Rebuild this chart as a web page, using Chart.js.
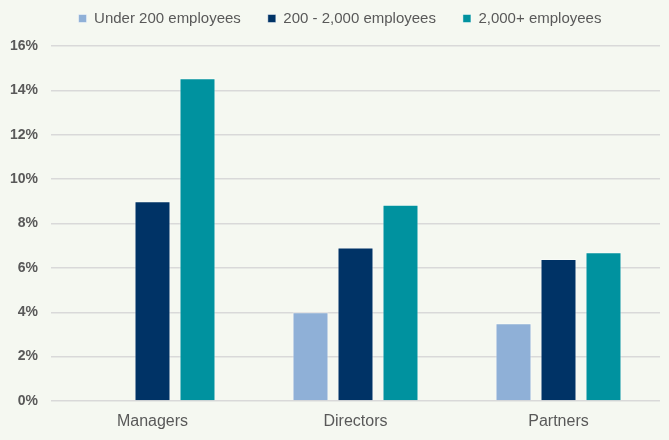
<!DOCTYPE html>
<html>
<head>
<meta charset="utf-8">
<script src="https://cdn.jsdelivr.net/npm/chart.js@4"></script>
<style>
  html, body { margin: 0; padding: 0; background: #f5f8f1; overflow: hidden; }
  #wrap { width: 669px; height: 456px; margin-top: -16px; }
</style>
</head>
<body>
<div id="wrap"><canvas id="c"></canvas></div>
<script>
// chart data
const categories = ["Managers", "Directors", "Partners"];
const under200 = [null, 4.0, 3.5];
const mid200to2000 = [9.0, 6.92, 6.4];
const over2000 = [14.55, 8.85, 6.7];
const seriesNames = ["Under 200 employees", "200 - 2,000 employees", "2,000+ employees"];
const yTicks = [0, 2, 4, 6, 8, 10, 12, 14, 16];

const gray = "#595959";
const fontFamily = "'Liberation Sans', Arial, sans-serif";

// make room under the legend and nudge it right a little
const legendTweak = {
  id: "legendTweak",
  beforeInit(chart) {
    const fit = chart.legend.fit;
    chart.legend.fit = function () {
      fit.call(this);
      this.height += 10;
    };
  },
  afterLayout(chart) {
    chart.legend.left += 10;
    chart.legend.right += 10;
  },
};

new Chart(document.getElementById("c"), {
  type: "bar",
  data: {
    labels: categories,
    datasets: [
      { label: seriesNames[0], data: under200, backgroundColor: "#8fb0d7" },
      { label: seriesNames[1], data: mid200to2000, backgroundColor: "#003366" },
      { label: seriesNames[2], data: over2000, backgroundColor: "#00929f" },
    ].map((d) => Object.assign(d, {
      borderColor: "rgba(255,255,255,0.45)",
      borderWidth: 1,
      categoryPercentage: 0.665,
      barPercentage: 0.8,
    })),
  },
  plugins: [legendTweak],
  options: {
    responsive: true,
    maintainAspectRatio: false,
    animation: false,
    layout: { padding: { left: 0, right: 9, top: 0, bottom: 0 } },
    plugins: {
      legend: {
        position: "top",
        labels: {
          boxWidth: 8,
          boxHeight: 8,
          padding: 27,
          color: gray,
          font: { family: fontFamily, size: 15 },
        },
      },
      tooltip: { enabled: false },
    },
    scales: {
      x: {
        grid: { display: false },
        border: { display: false },
        ticks: { color: gray, font: { family: fontFamily, size: 16 }, padding: 3 },
        afterFit: (scale) => { scale.height = 39; },
      },
      y: {
        min: 0,
        max: 16,
        afterBuildTicks: (scale) => { scale.ticks = yTicks.map((v) => ({ value: v })); },
        grid: { color: "#d9d9d9", lineWidth: 1.5, drawTicks: false },
        border: { display: false },
        ticks: {
          color: gray,
          padding: 13,
          font: { family: fontFamily, size: 14, weight: "bold" },
          callback: (v) => v + "%",
        },
        afterFit: (scale) => { scale.width = 51; },
      },
    },
  },
});
</script>
</body>
</html>
